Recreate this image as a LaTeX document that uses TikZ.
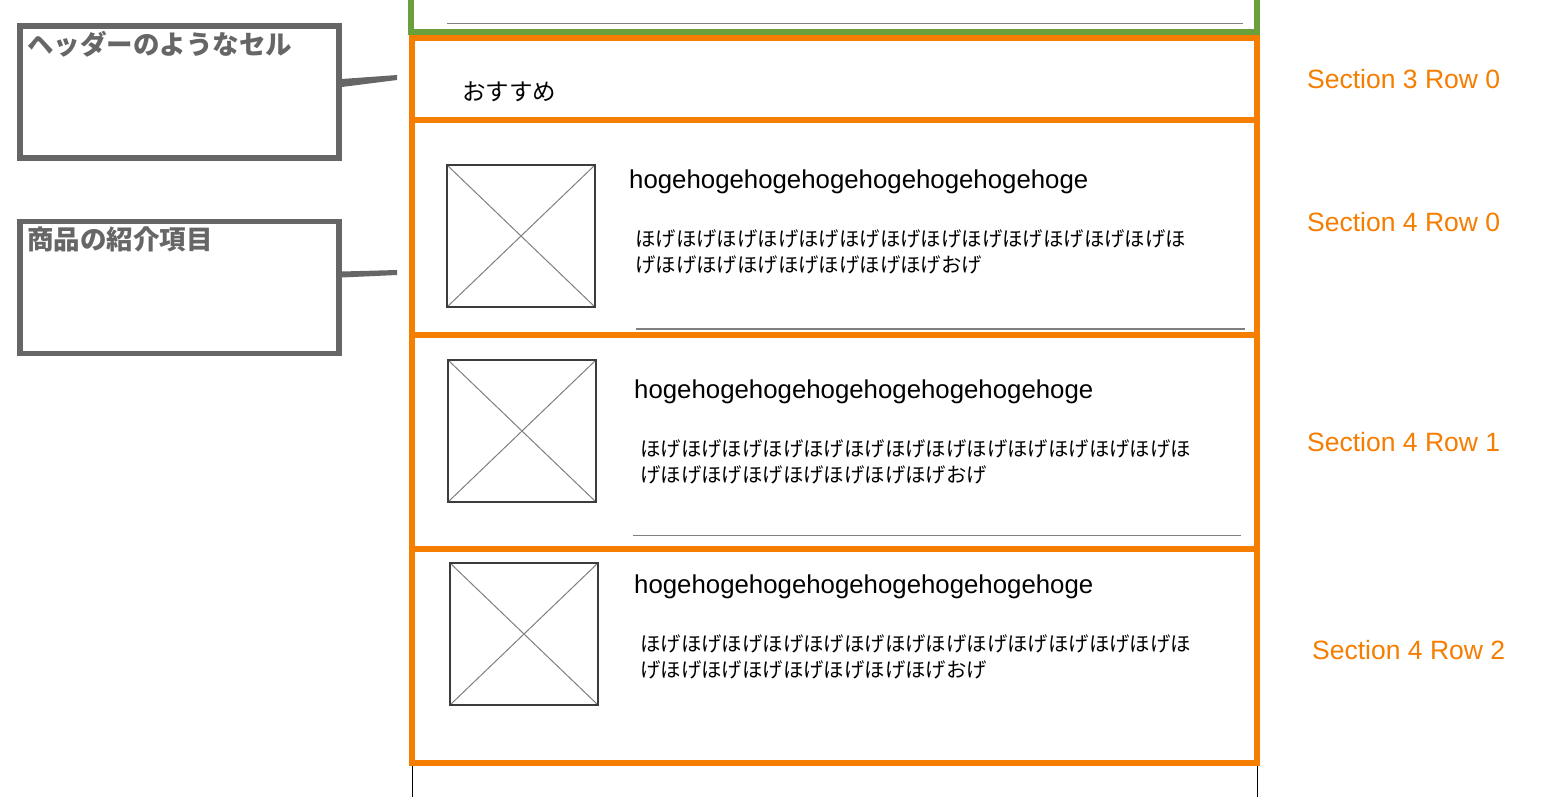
\documentclass[tikz,border=0pt]{standalone}
\usepackage{fontspec}
\usetikzlibrary{calc}
\setmainfont{Liberation Sans}
\newfontfamily\jp{Noto Sans CJK JP}
\definecolor{org}{RGB}{245,125,0}
\definecolor{grn}{RGB}{107,159,59}
\definecolor{cgray}{RGB}{102,102,102}
\definecolor{sepgray}{RGB}{128,128,128}
\definecolor{boxgray}{RGB}{60,60,60}
\tikzset{
  cell/.style={draw=org,line width=6pt},
  greencell/.style={draw=grn,line width=6pt},
  seprule/.style={draw=sepgray,line width=1.5pt},
  frameline/.style={draw=black,line width=1pt},
  callbox/.style={draw=cgray,line width=5.5pt,fill=white,inner sep=0pt,minimum width=319pt,minimum height=132pt},
  calltext/.style={anchor=west,inner sep=0pt,text=cgray,font=\jp\bfseries\fontsize{26.5}{30}\selectfont},
  hogetext/.style={anchor=base west,inner sep=0pt,font=\fontsize{25.8}{30}\selectfont},
  jptext/.style={anchor=west,inner sep=0pt,font=\jp\fontsize{20.4}{24}\selectfont},
  headtext/.style={anchor=west,inner sep=0pt,font=\jp\fontsize{23.5}{28}\selectfont},
  seclabel/.style={anchor=base west,inner sep=0pt,text=org,font=\fontsize{26.5}{30}\selectfont},
  placeholder/.pic={
    \draw[sepgray,line width=1pt] (0,0) -- (148,142);
    \draw[sepgray,line width=1pt] (148,0) -- (0,142);
    \draw[boxgray,line width=1.5pt] (0,0) rectangle (148,142);
  }
}
\begin{document}
\begin{tikzpicture}[x=1pt,y=-1pt]
\useasboundingbox (0,0) rectangle (1542,796);
\clip (0,0) rectangle (1542,796);
\fill[white] (0,0) rectangle (1542,796);

% underlying table frame lines
\draw[frameline] (412,760) -- (412,800);
\draw[frameline] (1257,760) -- (1257,800);

% previous section cell (green)
\draw[greencell] (411,-20) rectangle (1257,32);
\draw[seprule] (447,23.5) -- (1243,23.5);

% orange cells
\draw[cell] (412,38) rectangle (1256.5,120);
\draw[cell] (412,120) rectangle (1256.5,335);
\draw[cell] (412,335) rectangle (1256.5,549);
\draw[cell] (412,549) rectangle (1256.5,763);

% separators inside cells
\draw[seprule] (636,329) -- (1245,329);
\draw[seprule] (633,535.5) -- (1241,535.5);

% header cell text
\node[headtext] (rec) at (462,92) {おすすめ};

% row 0
\pic at (447,165) {placeholder};
\node[hogetext] (h0) at (629,188) {hogehogehogehogehogehogehogehoge};
\node[jptext] (j0a) at (635,239) {ほげほげほげほげほげほげほげほげほげほげほげほげほげほ};
\node[jptext] (j0b) at (635,265) {げほげほげほげほげほげほげほげおげ};

% row 1
\pic at (448,360) {placeholder};
\node[hogetext] (h1) at (634,398) {hogehogehogehogehogehogehogehoge};
\node[jptext] (j1a) at (640,449) {ほげほげほげほげほげほげほげほげほげほげほげほげほげほ};
\node[jptext] (j1b) at (640,475) {げほげほげほげほげほげほげほげおげ};

% row 2
\pic at (450,563) {placeholder};
\node[hogetext] (h2) at (634,593) {hogehogehogehogehogehogehogehoge};
\node[jptext] (j2a) at (640,644) {ほげほげほげほげほげほげほげほげほげほげほげほげほげほ};
\node[jptext] (j2b) at (640,670) {げほげほげほげほげほげほげほげおげ};

% section labels
\node[seclabel] (s30) at (1307,88) {Section 3 Row 0};
\node[seclabel] (s40) at (1307,231) {Section 4 Row 0};
\node[seclabel] (s41) at (1307,451) {Section 4 Row 1};
\node[seclabel] (s42) at (1312,659) {Section 4 Row 2};

% callouts
\node[callbox] (cb1) at (179.5,92) {};
\node[calltext] (ct1) at (27,44) {ヘッダーのようなセル};
\coordinate (tip1) at (397,75);
\fill[cgray] ($(cb1.east)+(0,-13)$) -- (tip1) -- ($(tip1)+(0,5)$) -- ($(cb1.east)+(0,-5)$) -- cycle;

\node[callbox] (cb2) at (179.5,287.5) {};
\node[calltext] (ct2) at (27,239) {商品の紹介項目};
\coordinate (tip2) at (397,270);
\fill[cgray] ($(cb2.east)+(0,-16)$) -- (tip2) -- ($(tip2)+(0,5)$) -- ($(cb2.east)+(0,-10)$) -- cycle;
\end{tikzpicture}
\end{document}
